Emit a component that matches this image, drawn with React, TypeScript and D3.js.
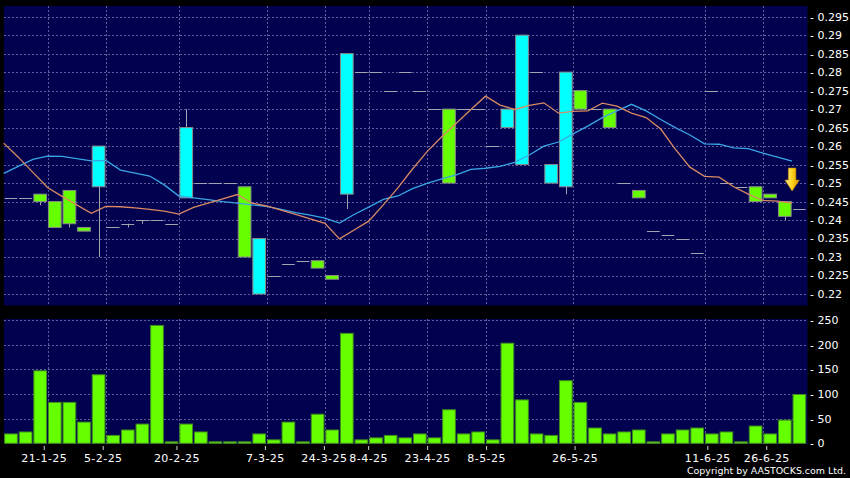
import React from "react";
import * as d3 from "d3";

// ---- Data (55 trading sessions, left to right) ----
const OPEN = [0.246,0.246,0.247,0.245,0.248,0.238,0.249,0.238,0.239,0.24,0.24,0.239,0.246,0.25,0.25,0.25,0.249,0.22,0.225,0.228,0.229,0.229,0.225,0.247,0.28,0.28,0.275,0.28,0.275,0.27,0.27,0.27,0.27,0.26,0.265,0.255,0.28,0.25,0.249,0.275,0.27,0.27,0.25,0.248,0.237,0.236,0.235,0.231,0.275,0.25,0.249,0.249,0.247,0.245,0.243];
const HIGH = [0.246,0.246,0.247,0.245,0.248,0.238,0.26,0.238,0.239,0.24,0.24,0.239,0.27,0.25,0.25,0.25,0.249,0.235,0.225,0.228,0.229,0.229,0.225,0.285,0.28,0.28,0.275,0.28,0.275,0.27,0.27,0.27,0.27,0.26,0.27,0.29,0.28,0.255,0.28,0.275,0.27,0.27,0.25,0.248,0.237,0.236,0.235,0.231,0.275,0.25,0.249,0.249,0.247,0.245,0.243];
const LOW = [0.246,0.246,0.244,0.238,0.238,0.237,0.23,0.238,0.238,0.239,0.24,0.239,0.246,0.25,0.25,0.25,0.23,0.22,0.225,0.228,0.229,0.227,0.224,0.243,0.28,0.28,0.275,0.28,0.275,0.27,0.25,0.27,0.27,0.26,0.265,0.255,0.28,0.25,0.247,0.27,0.27,0.265,0.25,0.246,0.237,0.236,0.235,0.231,0.275,0.25,0.249,0.245,0.246,0.24,0.243];
const CLOSE = [0.246,0.246,0.245,0.238,0.239,0.237,0.26,0.238,0.239,0.24,0.24,0.239,0.265,0.25,0.25,0.25,0.23,0.235,0.225,0.228,0.229,0.227,0.224,0.285,0.28,0.28,0.275,0.28,0.275,0.27,0.25,0.27,0.27,0.26,0.27,0.29,0.28,0.255,0.28,0.27,0.27,0.265,0.25,0.246,0.237,0.236,0.235,0.231,0.275,0.25,0.249,0.245,0.246,0.241,0.243];
const VOLUME = [19,23,147,83,83,43,139,16,27,39,239,3,39,23,3,3,3,19,7,43,3,59,27,223,7,11,16,11,19,11,68,19,23,7,203,88,19,16,127,83,31,19,23,27,3,19,27,31,19,23,3,35,19,47,99];

const MA_SHORT = [0.2608,0.2570,0.2529,0.2488,0.2464,0.2441,0.2418,0.2437,0.2436,0.2433,0.2429,0.2424,0.2416,0.2434,0.2446,0.2457,0.2469,0.2446,0.2438,0.2427,0.2415,0.2403,0.2391,0.2349,0.2373,0.2397,0.2441,0.2487,0.2538,0.2585,0.2625,0.2662,0.2699,0.2735,0.2711,0.2699,0.2710,0.2717,0.2689,0.2694,0.2695,0.2716,0.2708,0.2689,0.2677,0.2646,0.2592,0.2543,0.2518,0.2516,0.2490,0.2470,0.2453,0.2451,0.2446];
const MA_LONG = [0.2526,0.2545,0.2564,0.2573,0.2572,0.2566,0.2560,0.2561,0.2535,0.2527,0.2519,0.2495,0.2465,0.2460,0.2455,0.2450,0.2446,0.2441,0.2437,0.2429,0.2420,0.2413,0.2405,0.2392,0.2415,0.2435,0.2456,0.2465,0.2485,0.2499,0.2511,0.2522,0.2537,0.2540,0.2545,0.2556,0.2576,0.2600,0.2611,0.2633,0.2654,0.2677,0.2695,0.2713,0.2695,0.2672,0.2650,0.2630,0.2606,0.2605,0.2595,0.2593,0.2581,0.2570,0.2559];

const PRICE_TICKS = [0.22,0.225,0.23,0.235,0.24,0.245,0.25,0.255,0.26,0.265,0.27,0.275,0.28,0.285,0.29,0.295];
const VOL_TICKS = [0,50,100,150,200,250];
const DATE_TICK_INDEX = [3,7,12,18,22,25,29,33,39,48,52];
const DATE_TICK_LABELS = ["21-1-25","5-2-25","20-2-25","7-3-25","24-3-25","8-4-25","23-4-25","8-5-25","26-5-25","11-6-25","26-6-25"];

const FONT = "'DejaVu Sans', Verdana, sans-serif";
const NAVY = "#010150";
const GRID = "#5e5e9c";
const CYAN = "#00ffff";
const GREEN = "#66ff00";
const GREY = "#a4a4b0";

export default function App() {
  const n = CLOSE.length;
  const idx = d3.range(n);
  const x = d3.scaleBand<number>().domain(idx).range([3.7, 806.7]).paddingInner(0.13).paddingOuter(0.065);
  const bw = x.bandwidth();
  const step = x.step();
  const left = (i: number) => (x(i) ?? 0);
  const edge = (i: number) => left(i) - (step - bw) / 2;
  const cx = (i: number) => left(i) + bw / 2;
  const yP = d3.scaleLinear().domain([0.22, 0.295]).range([294, 16.65]);
  const yV = d3.scaleLinear().domain([0, 250]).range([443.3, 320]);
  const xTick = d3.scaleLinear().domain([0, n]).range([0, 811]);

  const main = { x0: 4, x1: 807.5, y0: 6, y1: 305.5 };
  const vol = { x0: 4, x1: 807.5, y0: 319, y1: 444 };

  const lineGen = d3.line<number>().x((_, i) => edge(i)).y((d) => yP(d));

  const fmtP = (v: number) => String(+v.toFixed(3));

  // arrow over last session
  const ax = edge(n - 1);
  const aBottom = yP(HIGH[n - 2]) - 10.5;
  const aTop = aBottom - 23;
  const arrowPath = `M${ax - 3.8},${aTop} L${ax + 3.8},${aTop} L${ax + 3.8},${aTop + 12} L${ax + 7.2},${aTop + 12} L${ax},${aBottom} L${ax - 7.2},${aTop + 12} L${ax - 3.8},${aTop + 12} Z`;

  return (
    <>
      <style>{`html,body{margin:0;padding:0;background:#000;}`}</style>
      <svg width={850} height={478} style={{ display: "block", background: "#000" }}>
        <defs>
          <linearGradient id="arrowGrad" x1="0" x2="1" y1="0" y2="0">
            <stop offset="0" stopColor="#fff2a0" />
            <stop offset="0.5" stopColor="#ffd21a" />
            <stop offset="1" stopColor="#d89a00" />
          </linearGradient>
        </defs>
        {/* panels */}
        <rect x={main.x0} y={main.y0} width={main.x1 - main.x0} height={main.y1 - main.y0} fill={NAVY} />
        <rect x={vol.x0} y={vol.y0} width={vol.x1 - vol.x0} height={vol.y1 - vol.y0} fill={NAVY} />

        {/* price grid */}
        {PRICE_TICKS.map((t) => (
          <line key={"pg" + t} x1={main.x0} x2={main.x1} y1={Math.round(yP(t)) + 0.5} y2={Math.round(yP(t)) + 0.5}
            stroke={GRID} strokeDasharray="2,2" strokeWidth={1} />
        ))}
        {VOL_TICKS.filter((t) => t > 0).map((t) => (
          <line key={"vg" + t} x1={vol.x0} x2={vol.x1} y1={Math.round(yV(t)) + 0.5} y2={Math.round(yV(t)) + 0.5}
            stroke={GRID} strokeDasharray="2,2" strokeWidth={1} />
        ))}
        {DATE_TICK_INDEX.map((k) => {
          const gx = Math.round(edge(k)) + 0.5;
          return (
            <g key={"vgrid" + k}>
              <line x1={gx} x2={gx} y1={main.y0} y2={main.y1} stroke={GRID} strokeDasharray="2,2" />
              <line x1={gx} x2={gx} y1={vol.y0} y2={vol.y1} stroke={GRID} strokeDasharray="2,2" />
            </g>
          );
        })}

        {/* candles */}
        {idx.map((i) => {
          const o = OPEN[i], c = CLOSE[i], h = HIGH[i], l = LOW[i];
          const xc = Math.round(cx(i)) + 0.5;
          const wick = h > l ? (
            <line x1={xc} x2={xc} y1={yP(h)} y2={yP(l)} stroke={GREY} strokeWidth={1} />
          ) : null;
          if (o === c) {
            const yy = Math.round(yP(o)) + 0.5;
            return (
              <g key={"c" + i}>
                {wick}
                <line x1={left(i)} x2={left(i) + bw} y1={yy} y2={yy} stroke={GREY} strokeWidth={1} />
              </g>
            );
          }
          const top = yP(Math.max(o, c));
          const bot = yP(Math.min(o, c));
          return (
            <g key={"c" + i}>
              {wick}
              <rect x={left(i)} y={top} width={bw} height={bot - top}
                fill={c > o ? CYAN : GREEN} stroke="#8a8a8a" strokeWidth={1} />
            </g>
          );
        })}

        {/* moving averages */}
        <path d={lineGen(MA_LONG) ?? ""} fill="none" stroke="#3aa6e4" strokeWidth={1.3} />
        <path d={lineGen(MA_SHORT) ?? ""} fill="none" stroke="#d98a62" strokeWidth={1.3} />

        {/* arrow */}
        <path d={arrowPath} fill="url(#arrowGrad)" stroke="#b88400" strokeWidth={0.6} />

        {/* volume bars */}
        {idx.map((i) => (
          <rect key={"v" + i} x={left(i)} y={yV(VOLUME[i])} width={bw} height={yV(0) - yV(VOLUME[i])}
            fill={GREEN} stroke="#3f8a1e" strokeWidth={1} />
        ))}

        {/* right axis labels */}
        {PRICE_TICKS.map((t) => (
          <text key={"pl" + t} x={810} y={yP(t)} dy="0.36em" fill="#fff" fontFamily={FONT} fontSize={11}>
            {"- " + fmtP(t)}
          </text>
        ))}
        {VOL_TICKS.map((t) => (
          <text key={"vl" + t} x={810} y={yV(t)} dy="0.36em" fill="#fff" fontFamily={FONT} fontSize={11}>
            {"- " + t}
          </text>
        ))}

        {/* date axis */}
        {DATE_TICK_INDEX.map((k, j) => {
          const tx = xTick(k);
          return (
            <g key={"dt" + k}>
              <line x1={tx} x2={tx} y1={446} y2={450} stroke="#cfcfcf" strokeWidth={1} />
              <text x={tx} y={461.5} textAnchor="middle" fill="#fff" fontFamily={FONT} fontSize={11} letterSpacing={0.45}>
                {DATE_TICK_LABELS[j]}
              </text>
            </g>
          );
        })}

        <text x={687} y={473.5} fill="#fff" fontFamily={FONT} fontSize={9.4} textLength={159} lengthAdjust="spacingAndGlyphs">
          Copyright by AASTOCKS.com Ltd.
        </text>
      </svg>
    </>
  );
}
